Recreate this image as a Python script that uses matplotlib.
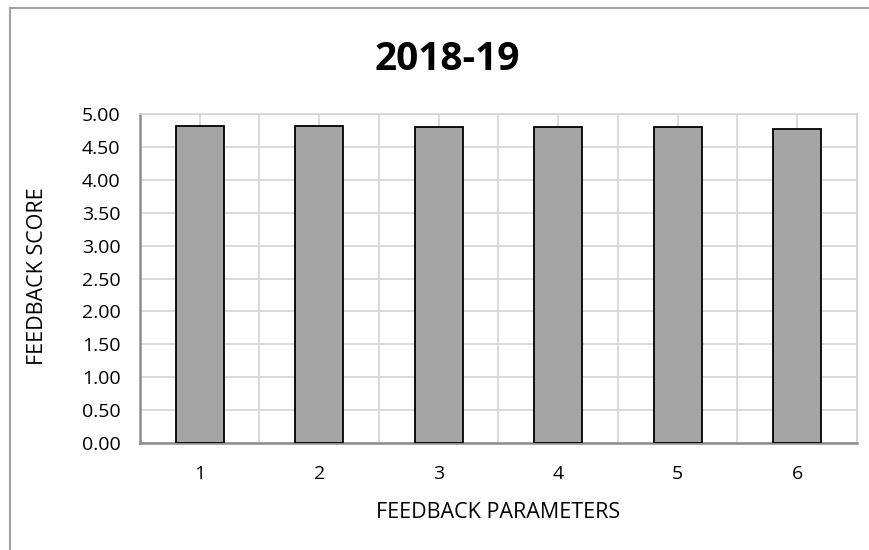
import matplotlib
matplotlib.use('Agg')
import matplotlib.pyplot as plt
from matplotlib.ticker import MultipleLocator, FormatStrFormatter

# Data
###############################################################################
params = ['1', '2', '3', '4', '5', '6']
scores = [4.82, 4.82, 4.80, 4.80, 4.80, 4.77]

plt.rcParams['font.family'] = ['Open Sans', 'DejaVu Sans']

W, H = 870, 550
fig = plt.figure(figsize=(W / 100, H / 100), dpi=100)
ax = fig.add_axes([140 / W, 1 - 443 / H, 717 / W, 329 / H])

x = list(range(len(params)))
ax.bar(x, scores, width=0.4, color='#a5a5a5', edgecolor='black',
       linewidth=1.3, zorder=3)

ax.set_xlim(-0.5, len(params) - 0.5)
ax.set_ylim(0, 5)
ax.yaxis.set_major_locator(MultipleLocator(0.5))
ax.yaxis.set_major_formatter(FormatStrFormatter('%.2f'))
ax.set_xticks(x)
ax.set_xticklabels(params)
ax.xaxis.set_minor_locator(MultipleLocator(0.5))

ax.grid(True, which='both', axis='x', color='#d4d4d4', linewidth=1.2, zorder=0)
ax.grid(True, which='major', axis='y', color='#d4d4d4', linewidth=1.2, zorder=0)
ax.tick_params(which='both', length=0, labelsize=14, colors='black')
ax.tick_params(axis='x', pad=16)
ax.tick_params(axis='y', pad=14)

for s in ['top', 'right']:
    ax.spines[s].set_color('#d4d4d4')
    ax.spines[s].set_linewidth(1.2)
for s in ['left', 'bottom']:
    ax.spines[s].set_color('#8c8c8c')
    ax.spines[s].set_linewidth(1.8)

# titles and axis labels
fig.text(447 / W, 1 - 70 / H, '2018-19', fontsize=28, fontweight='bold',
         ha='center', va='baseline')
fig.text(498 / W, 1 - 518 / H, 'FEEDBACK PARAMETERS', fontsize=15.5,
         ha='center', va='baseline')
fig.text(38 / W, 1 - 276 / H, 'FEEDBACK SCORE', fontsize=15.5,
         rotation=90, ha='center', va='center')

# outer chart border (cropped)
fig.add_artist(plt.Line2D([10 / W, 1], [1 - 8 / H, 1 - 8 / H],
                          color='#a0a0a0', linewidth=1.5))
fig.add_artist(plt.Line2D([10 / W, 10 / W], [0, 1 - 8 / H],
                          color='#a0a0a0', linewidth=1.5))

fig.savefig('out.png', dpi=100)
